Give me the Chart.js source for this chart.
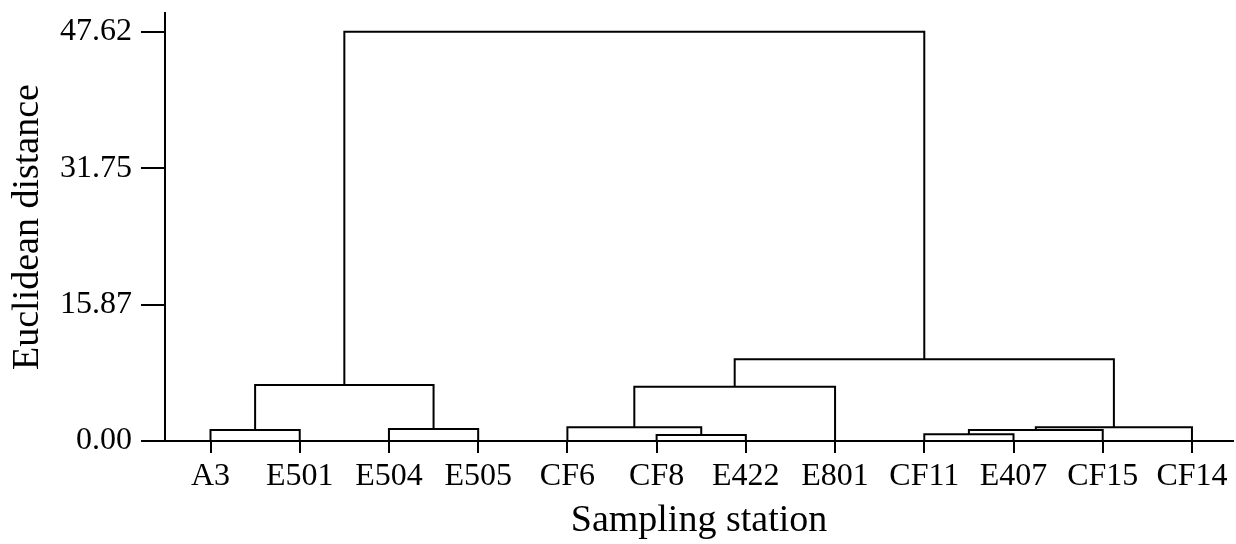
<!DOCTYPE html>
<html>
<head>
<meta charset="utf-8">
<title>Dendrogram</title>
<script src="https://cdn.jsdelivr.net/npm/chart.js@4"></script>
<style>
  html, body { margin: 0; padding: 0; background: #fff; }
  #wrap { width: 1236px; height: 544px; }
</style>
</head>
<body>
<div id="wrap"><canvas id="dendro"></canvas></div>
<script>
// leaf order along the x axis
const stations = ['A3', 'E501', 'E504', 'E505', 'CF6', 'CF8', 'E422', 'E801', 'CF11', 'E407', 'CF15', 'CF14'];

// merges: ids 0-11 are the stations, each merge adds a new id (12, 13, ...)
const mergeLeft   = [5, 8, 0, 13, 2, 4, 15, 17, 14, 19, 20];
const mergeRight  = [6, 9, 1, 10, 3, 12, 11, 7, 16, 18, 21];
const mergeHeight = [0.70, 0.78, 1.28, 1.28, 1.40, 1.60, 1.60, 6.32, 6.52, 9.51, 47.62];

const yTicks = [0, 15.87, 31.75, 47.62];

// build one U-shaped line per merge
const nodeX = stations.map((s, i) => i);
const nodeH = stations.map(() => 0);
const links = [];
for (let k = 0; k < mergeHeight.length; k++) {
    const a = mergeLeft[k], b = mergeRight[k], h = mergeHeight[k];
    links.push({
        data: [
            { x: nodeX[a], y: nodeH[a] },
            { x: nodeX[a], y: h },
            { x: nodeX[b], y: h },
            { x: nodeX[b], y: nodeH[b] }
        ],
        showLine: true,
        borderColor: '#000',
        borderWidth: 2,
        pointRadius: 0,
        tension: 0,
        clip: false
    });
    nodeX.push((nodeX[a] + nodeX[b]) / 2);
    nodeH.push(h);
}

const font = 'Liberation Serif';

new Chart(document.getElementById('dendro').getContext('2d'), {
    type: 'scatter',
    data: { datasets: links },
    options: {
        responsive: true,
        maintainAspectRatio: false,
        animation: false,
        layout: { padding: { top: 13, right: 3, left: 0, bottom: 0 } },
        plugins: {
            legend: { display: false },
            tooltip: { enabled: false }
        },
        scales: {
            x: {
                type: 'linear',
                min: -0.51,
                max: 11.46,
                afterBuildTicks: function (scale) {
                    scale.ticks = stations.map((s, i) => ({ value: i }));
                },
                afterFit: function (scale) {
                    scale.height = 103;
                    scale.paddingLeft = 0;
                    scale.paddingRight = 0;
                },
                grid: { drawOnChartArea: false, tickLength: 12, color: '#000', lineWidth: 2 },
                border: { display: true, color: '#000', width: 2 },
                ticks: {
                    autoSkip: false,
                    maxRotation: 0,
                    padding: 4,
                    color: '#000',
                    font: { family: font, size: 32 },
                    callback: function (value) { return stations[value]; }
                },
                title: {
                    display: true,
                    text: 'Sampling station',
                    color: '#000',
                    font: { family: font, size: 38 },
                    padding: { top: 0, bottom: 0 }
                }
            },
            y: {
                min: 0,
                max: 49.8,
                afterBuildTicks: function (scale) {
                    scale.ticks = yTicks.map(v => ({ value: v }));
                },
                afterFit: function (scale) {
                    scale.width = 165;
                    scale.paddingTop = 0;
                    scale.paddingBottom = 0;
                },
                grid: { drawOnChartArea: false, tickLength: 24, color: '#000', lineWidth: 2 },
                border: { display: true, color: '#000', width: 2 },
                ticks: {
                    padding: 9,
                    color: '#000',
                    font: { family: font, size: 32 },
                    callback: function (value) { return value.toFixed(2); }
                },
                title: {
                    display: true,
                    text: 'Euclidean distance',
                    color: '#000',
                    font: { family: font, size: 38 },
                    padding: { top: 5, bottom: 0 }
                }
            }
        }
    }
});
</script>
</body>
</html>
